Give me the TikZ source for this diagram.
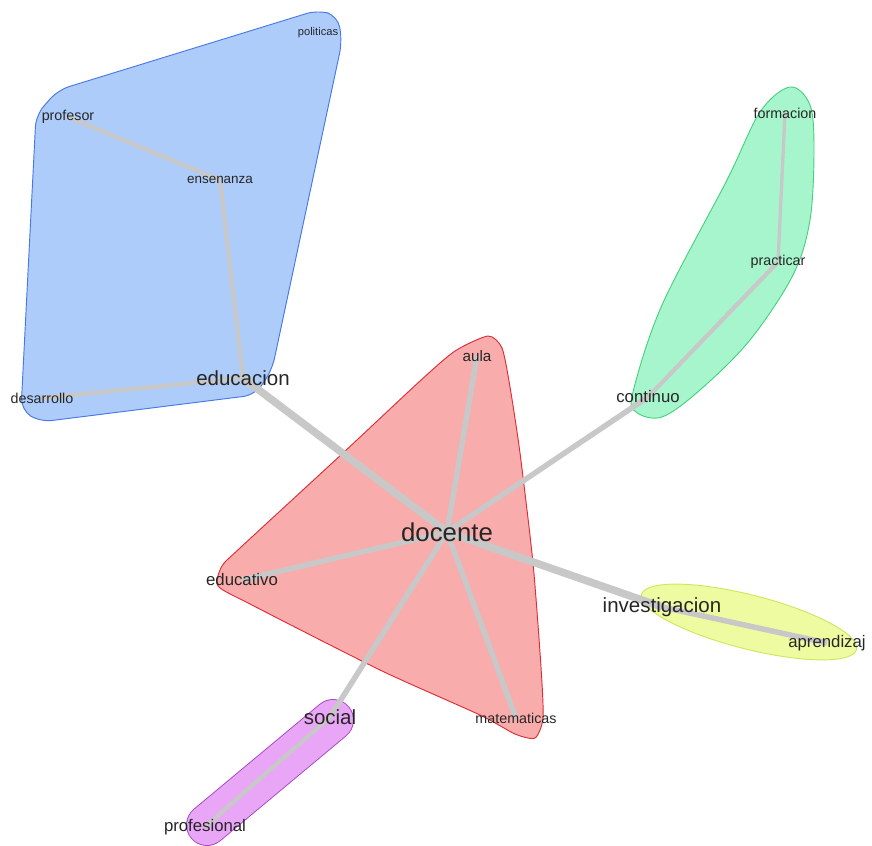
\documentclass[tikz,border=0pt]{standalone}
\usepackage{fontspec}
\setmainfont{Liberation Sans}
\usepackage{xcolor}
\definecolor{linkgray}{RGB}{200,200,200}
\definecolor{bluefill}{RGB}{174,204,250}
\definecolor{blueline}{RGB}{70,120,230}
\definecolor{redfill}{RGB}{249,172,172}
\definecolor{redline}{RGB}{222,45,55}
\definecolor{greenfill}{RGB}{166,245,204}
\definecolor{greenline}{RGB}{70,210,125}
\definecolor{yellowfill}{RGB}{238,251,160}
\definecolor{yellowline}{RGB}{205,232,95}
\definecolor{purplefill}{RGB}{233,166,246}
\definecolor{purpleline}{RGB}{165,70,195}
\pgfdeclarelayer{hulls}
\pgfdeclarelayer{links}
\pgfsetlayers{hulls,links,main}

\begin{document}
\begin{tikzpicture}[x=0.03cm,y=-0.03cm,
    word/.style={inner sep=0pt,text=black!85},
    wordbig/.style={word,font=\fontsize{22}{22}\selectfont},
    wordmid/.style={word,font=\fontsize{17.5}{17.5}\selectfont},
    wordsmall/.style={word,font=\fontsize{14.3}{14.3}\selectfont},
    wordtiny/.style={word,font=\fontsize{12.2}{12.2}\selectfont},
    link/.style={draw=linkgray,line width=3.6pt},
    linkwide/.style={draw=linkgray,line width=4.7pt},
    linkheavy/.style={draw=linkgray,line width=6.5pt},
    hull/.style={line width=0.8pt}]
    \useasboundingbox (0,0) rectangle (872,846);

    % words
    \node[wordbig]   (docente)       at (447,532) {docente};
    \node[wordmid]   (educacion)     at (243,378) {educacion};
    \node[wordmid]   (investigacion) at (662,607) {investigacion};
    \node[wordmid]   (social)        at (330,717) {social};
    \node[wordsmall] (continuo)      at (648,397) {continuo};
    \node[wordsmall] (educativo)     at (242,580) {educativo};
    \node[wordsmall] (aprendizaj)    at (827,643) {aprendizaj};
    \node[wordsmall] (profesional)   at (205,827) {profesional};
    \node[wordtiny]  (matematicas)   at (516,718) {matematicas};
    \node[wordsmall, font=\fontsize{13}{13}\selectfont] (aula) at (477,356) {aula};
    \node[wordtiny]  (profesor)      at (68,117)  {profesor};
    \node[wordtiny, font=\fontsize{11.5}{11.5}\selectfont] (ensenanza) at (220,180) {ensenanza};
    \node[wordtiny]  (desarrollo)    at (42,398)  {desarrollo};
    \node[wordtiny]  (formacion)     at (785,113) {formacion};
    \node[wordtiny]  (practicar)     at (778,262) {practicar};
    \node[word, font=\fontsize{9.5}{9.5}\selectfont] (politicas) at (318,33) {politicas};

    % links
    \begin{pgfonlayer}{links}
    \draw[linkheavy] (docente.center) -- (educacion.center);
    \draw[linkheavy] (docente.center) -- (investigacion.center);
    \draw[linkwide]  (docente.center) -- (aula.center);
    \draw[linkwide]  (docente.center) -- (continuo.center);
    \draw[linkwide]  (docente.center) -- (educativo.center);
    \draw[linkwide]  (docente.center) -- (social.center);
    \draw[linkwide]  (docente.center) -- (matematicas.center);
    \draw[linkwide]  (investigacion.center) -- (aprendizaj.center);
    \draw[link] (profesor.center) -- (ensenanza.center);
    \draw[link] (ensenanza.center) -- (educacion.center);
    \draw[link] (educacion.center) -- (desarrollo.center);
    \draw[link] (continuo.center) -- (practicar.center);
    \draw[link, line width=2.8pt] (practicar.center) -- (formacion.center);
    \draw[link] (social.center) -- (profesional.center);
    \end{pgfonlayer}

    % groups
    \begin{pgfonlayer}{hulls}
    \draw[hull, fill=bluefill, draw=blueline, rounded corners=0.35cm]
        (36,115) -- (58,90) -- (318,10) -- (338,16) -- (342,42)
        -- (272,370) -- (255,395) -- (40,422) -- (21,410) -- cycle;
    \draw[hull, fill=redfill, draw=redline]
        plot[smooth cycle, tension=0.4] coordinates {(222,566) (240,548)
        (343,453) (420,381) (455,351) (488,336) (502,348) (510,387)
        (520,453) (533,563) (541,667) (543,718) (535,738) (515,734)
        (480,715) (380,670) (250,604) (218,586)};
    \draw[hull, fill=greenfill, draw=greenline]
        plot[smooth cycle, tension=0.55] coordinates {(790,87) (810,105)
        (814,150) (810,220) (793,275) (750,340) (700,390) (662,417)
        (636,412) (633,392) (662,305) (727,180) (760,112)};
    \draw[hull, fill=yellowfill, draw=yellowline, rotate around={-14.3:(749,622)}]
        (749,622) ellipse [x radius=111, y radius=27];
    \draw[line width=1.2cm+1.6pt, draw=purpleline, line cap=round]
        (207,825) -- (333,720);
    \draw[line width=1.2cm, draw=purplefill, line cap=round]
        (207,825) -- (333,720);
    \end{pgfonlayer}
\end{tikzpicture}
\end{document}
